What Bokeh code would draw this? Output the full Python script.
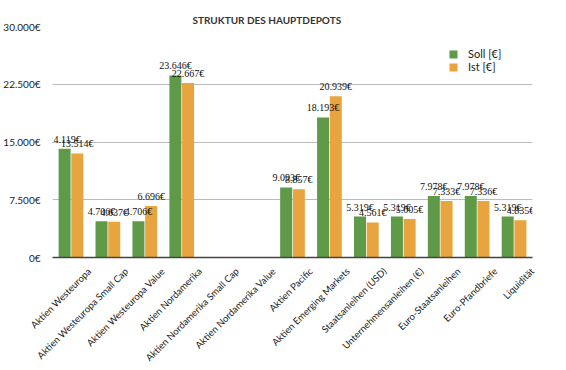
import math
from bokeh.plotting import figure
from bokeh.models import ColumnDataSource, Range1d, LabelSet, FixedTicker, Legend, LegendItem
from bokeh.transform import dodge
from bokeh.embed import file_html
from bokeh.resources import INLINE

categories = ["Aktien Westeuropa", "Aktien Westeuropa Small Cap", "Aktien Westeuropa Value",
              "Aktien Nordamerika", "Aktien Nordamerika Small Cap", "Aktien Nordamerika Value",
              "Aktien Pacific", "Aktien Emerging Markets", "Staatsanleihen (USD)",
              "Unternehmensanleihen (€)", "Euro-Staatsanleihen", "Euro-Pfandbriefe", "Liquidität"]
soll = [14119, 4706, 4706, 23646, None, None, 9093, 18193, 5319, 5319, 7978, 7978, 5319]
ist = [13514, 4637, 6696, 22667, None, None, 8857, 20939, 4561, 5005, 7333, 7336, 4835]
y_ticks = [0, 7500, 15000, 22500, 30000]
y_tick_labels = ["0€", "7.500€", "15.000€", "22.500€", "30.000€"]

GREEN = "#5f9a48"
ORANGE = "#e8a43e"
FONT = "Lato"

def fmt(v):
    return "" if v is None else f"{v:,}".replace(",", ".") + "€"

n = len(categories)
src = ColumnDataSource(dict(
    idx=list(range(n)),
    cat=categories,
    soll=[float("nan") if v is None else v for v in soll],
    ist=[float("nan") if v is None else v for v in ist],
    soll_t=[fmt(v) for v in soll],
    ist_t=[fmt(v) for v in ist],
))

p = figure(x_range=Range1d(0, n), y_range=(0, 30000),
           frame_width=480, frame_height=231, output_backend="svg", toolbar_location=None,
           min_border_left=42, min_border_right=28, min_border_top=26, min_border_bottom=100,
           title="STRUKTUR DES HAUPTDEPOTS")
p.title.text_font = FONT
p.title.text_font_size = "10px"
p.title.text_font_style = "bold"
p.title.align = "left"
p.title.offset = 140
p.title.standoff = 2
p.title.text_color = "#333333"
p.outline_line_color = None
p.background_fill_color = "white"

bw = 0.325
d1, d2 = 0.5 - 0.172, 0.5 + 0.172
r1 = p.vbar(x=dodge("idx", d1), top="soll", width=bw, source=src,
            fill_color=GREEN, line_color=None)
r2 = p.vbar(x=dodge("idx", d2), top="ist", width=bw, source=src,
            fill_color=ORANGE, line_color=None)

for col, off in (("soll", d1), ("ist", d2)):
    p.add_layout(LabelSet(x=dodge("idx", off), y=col, text=col + "_t",
                          source=src, text_align="center", text_baseline="bottom",
                          y_offset=4, text_font=FONT, text_font_size="10px",
                          text_color="#111111"))

p.yaxis.ticker = FixedTicker(ticks=y_ticks)
p.yaxis.major_label_overrides = {t: l for t, l in zip(y_ticks, y_tick_labels)}
p.yaxis.axis_line_color = None
p.yaxis.major_tick_line_color = None
p.yaxis.minor_tick_line_color = None
p.yaxis.major_label_text_font = FONT
p.yaxis.major_label_text_font_size = "10px"
p.yaxis.major_label_text_color = "#222222"
p.yaxis.major_label_standoff = 6

# category labels are anchored slightly right of each group's centre, as in the original
x_ticks = [i + 1 for i in range(n)]
p.xaxis.ticker = FixedTicker(ticks=x_ticks)
p.xaxis.major_label_overrides = {t: c for t, c in zip(x_ticks, categories)}
p.xaxis.major_label_orientation = math.pi / 4
p.xaxis.axis_line_color = "#444444"
p.xaxis.axis_line_width = 1.5
p.xaxis.major_tick_line_color = None
p.xaxis.minor_tick_line_color = None
p.xaxis.major_label_text_font = FONT
p.xaxis.major_label_text_font_size = "9.5px"
p.xaxis.major_label_text_color = "#222222"
p.xaxis.major_label_standoff = 6

p.xgrid.grid_line_color = None
p.ygrid.ticker = FixedTicker(ticks=y_ticks)
p.ygrid.grid_line_color = "#bbbbbb"

legend = Legend(items=[LegendItem(label="Soll [€]", renderers=[r1]),
                       LegendItem(label="Ist [€]", renderers=[r2])],
                location=(396, 184), orientation="vertical",
                glyph_width=10, glyph_height=10, label_height=10, spacing=0,
                label_standoff=10, padding=0, margin=0,
                border_line_color=None, background_fill_alpha=0,
                label_text_font=FONT, label_text_font_size="11px", label_text_color="#222222")
p.add_layout(legend)

open("out.html", "w").write(file_html(p, INLINE))
